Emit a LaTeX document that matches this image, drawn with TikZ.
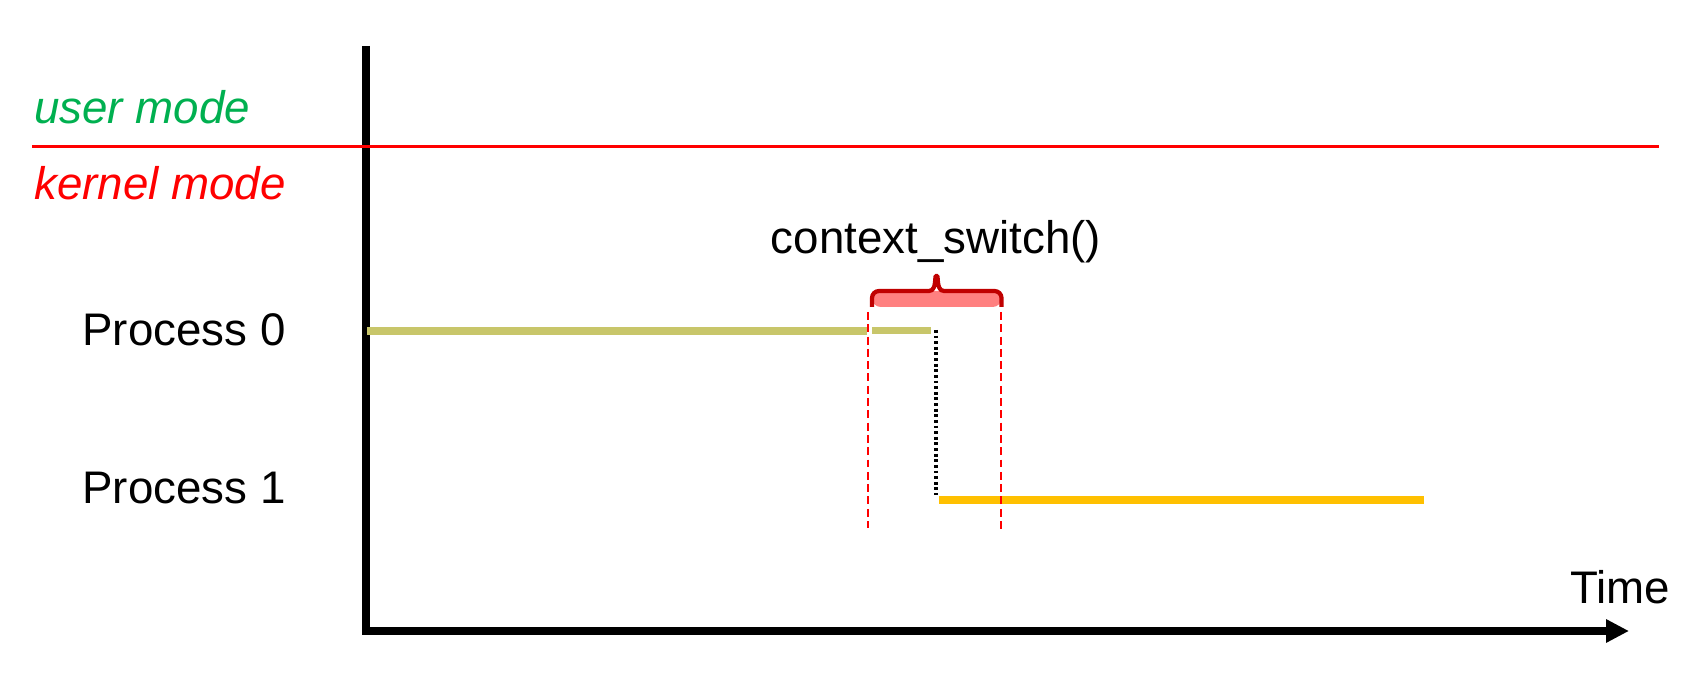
\documentclass[tikz,border=0pt]{standalone}
\usepackage{fontspec}
\setmainfont{Liberation Sans}
\usetikzlibrary{arrows.meta,calc}
\definecolor{usergreen}{HTML}{00B050}
\definecolor{olivebar}{HTML}{C8C66A}
\definecolor{ambar}{HTML}{FFC000}
\definecolor{bracered}{HTML}{C00000}
\definecolor{bracefill}{HTML}{FF8080}

\begin{document}
\begin{tikzpicture}[x=0.02cm,y=-0.02cm,>=Stealth,
  lbl/.style={font=\fontsize{26}{31}\selectfont,inner sep=0pt},
  bar/.style={line width=4.5pt},
  mark line/.style={red,line width=1.3pt,dash pattern=on 4.5pt off 2.5pt}]
 \useasboundingbox[fill=white] (0,0) rectangle (1705,682);
 % axes
 \coordinate (ytop) at (366,46);
 \coordinate (orig) at (366,631);
 \coordinate (xend) at (1629,631);
 \draw[line width=4.5pt,-{Triangle[length=13pt,width=12.5pt]}] (ytop)--(orig)--(xend);
 \node[lbl,anchor=base] (time) at (1620,603) {Time};
 % user / kernel boundary
 \coordinate (bl) at (32,146.5);
 \coordinate (br) at (1659,146.5);
 \draw[red,line width=2pt] (bl)--(br);
 \node[lbl,anchor=base west,usergreen,font=\fontsize{26}{31}\selectfont\itshape] (user) at (34,124) {user mode};
 \node[lbl,anchor=base west,red,font=\fontsize{26}{31}\selectfont\itshape] (kernel) at (34,200) {kernel mode};
 % processes
 \node[lbl,anchor=base west] (p0) at (82,346) {Process 0};
 \node[lbl,anchor=base west] (p1) at (82,503) {Process 1};
 \coordinate (a0) at (367,331);
 \coordinate (a1) at (867,331);
 \coordinate (a2) at (872,330.5);
 \coordinate (a3) at (931,330.5);
 \coordinate (b0) at (939,500);
 \coordinate (b1) at (1424,500);
 \draw[olivebar,bar] (a0)--(a1);
 \draw[olivebar,bar] (a2)--(a3);
 \draw[ambar,bar] (b0)--(b1);
 \coordinate (s0) at (936,330);
 \coordinate (s1) at (936,495);
 \draw[black,line width=2pt,dash pattern=on 1.6pt off 1.6pt] (s0)--(s1);
 % context switch span
 \coordinate (m0) at (868,312);
 \coordinate (m1) at (868,528);
 \coordinate (n0) at (1001,312);
 \coordinate (n1) at (1001,530);
 \draw[mark line] (m0)--(m1);
 \draw[mark line] (n0)--(n1);
 \fill[bracefill,rounded corners=5pt] (872,307)--(872,291)--(1001.5,291)--(1001.5,307)--cycle;
 \draw[bracered,line width=2.4pt,line join=round] (872,307)--(872,298) arc[start angle=180,end angle=270,radius=7]
   --(929,291) .. controls (934,291) and (935,286) .. (935.5,276)--(937.5,276)
   .. controls (938,286) and (939,291) .. (944,291)--(994.5,291) arc[start angle=270,end angle=360,radius=7]--(1001.5,307);
 \node[lbl,anchor=base] (cs) at (936,254) {context\_switch()};
\end{tikzpicture}
\end{document}
